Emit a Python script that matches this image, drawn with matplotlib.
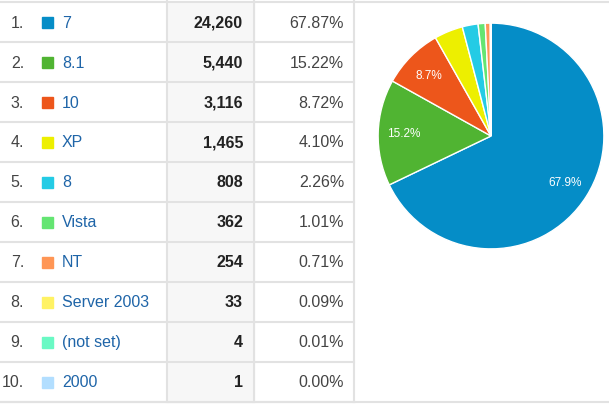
import matplotlib.pyplot as plt
from matplotlib.patches import Rectangle

# data
labels = ['7', '8.1', '10', 'XP', '8', 'Vista', 'NT', 'Server 2003', '(not set)', '2000']
sessions = [24260, 5440, 3116, 1465, 808, 362, 254, 33, 4, 1]
colors = ['#058DC7', '#50B432', '#ED561B', '#EDEF00', '#24CBE5',
          '#64E572', '#FF9655', '#FFF263', '#6AF9C4', '#B2DEFF']

plt.rcParams['font.family'] = ['Liberation Sans', 'DejaVu Sans']

W, H = 609, 406
fig = plt.figure(figsize=(W / 100, H / 100), dpi=100)

# table axes in pixel coordinates
ax = fig.add_axes([0, 0, 1, 1])
ax.set_xlim(0, W)
ax.set_ylim(H, 0)
ax.axis('off')

top, row_h = 3, 40
n = len(labels)
bottom = top + n * row_h
grid = '#e2e2e2'
fs = 11.5

# shaded value column
ax.add_patch(Rectangle((167, top), 87, n * row_h, color='#f7f7f7', zorder=0))

total = sum(sessions)
for i, (lab, val, col) in enumerate(zip(labels, sessions, colors)):
    yc = top + row_h * (i + 0.5)
    ax.text(24, yc, f'{i + 1}.', ha='right', va='center', fontsize=fs, color='#444444')
    ax.add_patch(Rectangle((42, yc - 5.5), 11, 11, color=col))
    ax.text(62, yc, lab, ha='left', va='center', fontsize=fs, color='#1f65a8')
    ax.text(243, yc, f'{val:,}', ha='right', va='center', fontsize=fs,
            fontweight='bold', color='#222222')
    ax.text(344, yc, f'{val / total * 100:.2f}%', ha='right', va='center',
            fontsize=fs, color='#444444')
    ax.plot([0, 354], [top + row_h * (i + 1)] * 2, color=grid, lw=1.5)

ax.plot([0, W], [top, top], color=grid, lw=1.5)
ax.plot([0, W], [bottom, bottom], color=grid, lw=1.5)
for x in [167, 254, 354]:
    ax.plot([x, x], [0, bottom], color=grid, lw=1.5)

# pie chart
cx, cy, r = 491, 137, 114
pax = fig.add_axes([(cx - r) / W, (H - cy - r) / H, 2 * r / W, 2 * r / H])


def fmt(p):
    return f'{p:.1f}%' if p > 5 else ''


wedges, texts, autotexts = pax.pie(sessions, colors=colors, startangle=90,
                                   counterclock=False, autopct=fmt, pctdistance=0.77,
                                   wedgeprops=dict(edgecolor='white', linewidth=1),
                                   textprops=dict(color='white', fontsize=8.5))
pax.set_xlim(-1.01, 1.01)
pax.set_ylim(-1.01, 1.01)
pax.set_aspect('equal')

fig.savefig('out.png', dpi=100)
